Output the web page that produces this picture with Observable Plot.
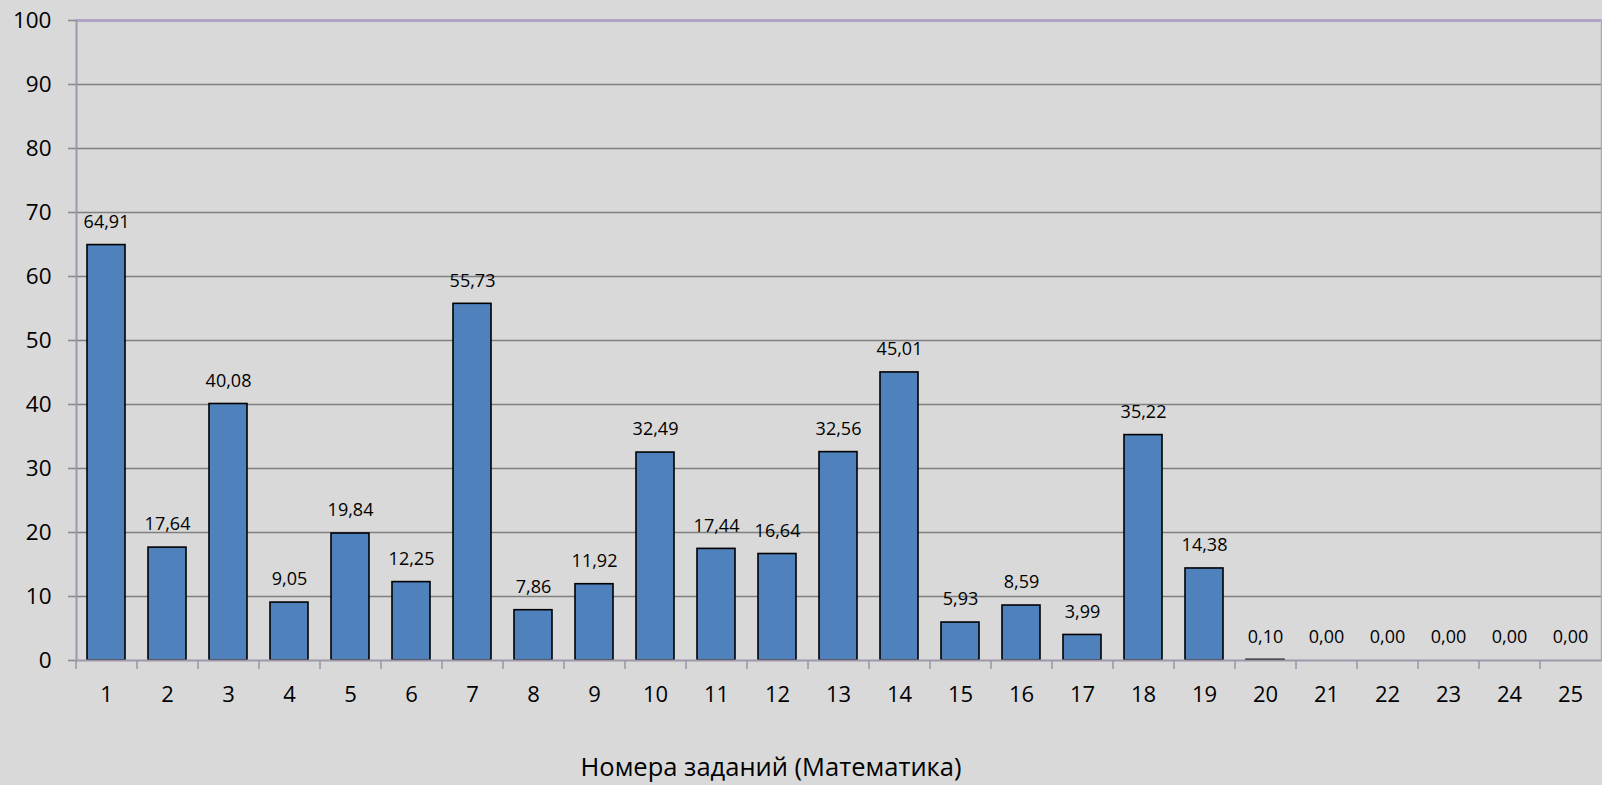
<!DOCTYPE html>
<html>
<head>
<meta charset="utf-8">
<script src="https://cdn.jsdelivr.net/npm/d3@7"></script>
<script src="https://cdn.jsdelivr.net/npm/@observablehq/plot@0.6"></script>
<style>
  html, body { margin: 0; padding: 0; background: #d9d9d9; }
  #chart svg { display: block; }
</style>
</head>
<body>
<div id="chart"></div>
<script>
// Percentage of correct answers per task
const tasks = ["1","2","3","4","5","6","7","8","9","10","11","12","13","14","15","16","17","18","19","20","21","22","23","24","25"];
const scores = [64.91, 17.64, 40.08, 9.05, 19.84, 12.25, 55.73, 7.86, 11.92, 32.49, 17.44, 16.64, 32.56, 45.01, 5.93, 8.59, 3.99, 35.22, 14.38, 0.10, 0.00, 0.00, 0.00, 0.00, 0.00];
const yTicks = [0, 10, 20, 30, 40, 50, 60, 70, 80, 90, 100];
const gridLevels = [10, 20, 30, 40, 50, 60, 70, 80, 90];
const axisTitle = "Номера заданий (Математика)";

const rows = tasks.map((t, i) => ({task: t, value: scores[i]}));
const fmt = v => v.toFixed(2).replace(".", ",");

const font = "'Open Sans', 'Noto Sans', sans-serif";

const chart = Plot.plot({
  width: 1602,
  height: 785,
  marginLeft: 76,
  marginRight: 1,
  marginTop: 20,
  marginBottom: 125,
  style: {background: "#d9d9d9", fontFamily: font, color: "#000"},
  x: {type: "band", domain: tasks, paddingInner: 0.37, paddingOuter: 0.185},
  y: {domain: [0, 100]},
  marks: [
    Plot.ruleY(gridLevels, {stroke: "#808080", strokeWidth: 1.7}),
    Plot.ruleY([100], {stroke: "#b3a2c7", strokeWidth: 3}),
    Plot.frame({anchor: "right", stroke: "#b3a2c7", strokeWidth: 1.5}),
    Plot.barY(rows, {x: "task", y: "value", fill: "#4f81bd", stroke: "#000", strokeWidth: 1.6}),
    Plot.text(rows, {x: "task", y: "value", text: d => fmt(d.value), dy: -23, fontSize: 18, fill: "#000"}),
    Plot.ruleY([0], {stroke: "#9f98ab", strokeWidth: 2}),
    Plot.frame({anchor: "left", stroke: "#9f98ab", strokeWidth: 2}),
    Plot.axisY({ticks: yTicks, tickSize: 8, tickPadding: 17, fontSize: 22.5, stroke: "#8a8a8a", strokeWidth: 1.6, label: null}),
    // boundary ticks between categories
    Plot.axisX({tickSize: 9, tickFormat: () => "", dx: -30.5, stroke: "#9f98ab", strokeWidth: 1.6, label: null}),
    Plot.axisX({tickSize: 0, tickPadding: 26, fontSize: 22, label: null}),
    Plot.text([axisTitle], {frameAnchor: "bottom", lineAnchor: "middle", dx: -68, dy: 107, fontSize: 25.5, fill: "#000"})
  ]
});

document.getElementById("chart").appendChild(chart);
</script>
</body>
</html>
